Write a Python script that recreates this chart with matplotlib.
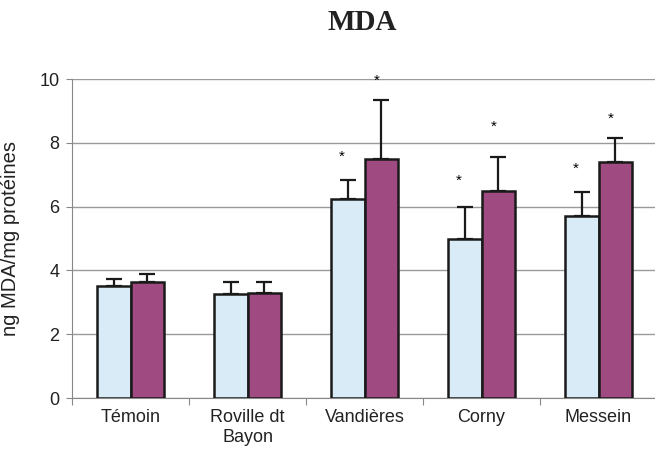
import numpy as np
import matplotlib
matplotlib.use("Agg")
import matplotlib.pyplot as plt

plt.rcParams['font.family'] = ['Liberation Sans', 'DejaVu Sans']

# data
sites = ["Témoin", "Roville dt\nBayon", "Vandières", "Corny", "Messein"]
light_vals = [3.52, 3.27, 6.23, 4.97, 5.69]
light_err = [0.22, 0.36, 0.59, 1.01, 0.77]
dark_vals = [3.64, 3.30, 7.49, 6.48, 7.40]
dark_err = [0.26, 0.33, 1.85, 1.09, 0.76]
# significance stars (height), None = no star
light_stars = [None, None, 7.57, 6.80, 7.19]
dark_stars = [None, None, 9.95, 8.50, 8.74]

light_col = "#d8ebf6"
dark_col = "#a04a82"

fig = plt.figure(figsize=(6.55, 4.61), dpi=100)
ax = fig.add_axes([72/655, 63/461, 585/655, 319/461])

x = np.arange(len(sites))
w = 0.29

ax.bar(x - w/2, light_vals, w, color=light_col, edgecolor="#1a1a1a", linewidth=1.8, zorder=3)
ax.bar(x + w/2, dark_vals, w, color=dark_col, edgecolor="#1a1a1a", linewidth=1.8, zorder=3)
# only upper error bars
ax.errorbar(x - w/2, light_vals, yerr=[np.zeros(len(x)), light_err], fmt="none",
            ecolor="#1a1a1a", elinewidth=1.6, capsize=5.5, capthick=1.6, zorder=2)
ax.errorbar(x + w/2, dark_vals, yerr=[np.zeros(len(x)), dark_err], fmt="none",
            ecolor="#1a1a1a", elinewidth=1.6, capsize=5.5, capthick=1.6, zorder=2)

for i in range(len(sites)):
    if light_stars[i] is not None:
        ax.text(x[i] - w/2 - 0.05, light_stars[i], "*", ha="center", va="center", fontsize=11)
    if dark_stars[i] is not None:
        ax.text(x[i] + w/2 - 0.04, dark_stars[i], "*", ha="center", va="center", fontsize=11)

ax.set_ylim(0, 10)
ax.set_xlim(-0.5, 4.5)
ax.set_yticks([0, 2, 4, 6, 8, 10])
ax.yaxis.grid(True, color="#9a9a9a", linewidth=1.0, zorder=0)
ax.set_axisbelow(True)

# boundary ticks as major, labels as minor
ax.set_xticks(np.arange(-0.5, 5, 1))
ax.set_xticklabels([])
ax.set_xticks(x, minor=True)
ax.set_xticklabels(sites, minor=True, fontsize=13, color="#222222")
ax.tick_params(axis="x", which="major", length=5, color="#888888")
ax.tick_params(axis="x", which="minor", length=0, pad=8)
ax.tick_params(axis="y", length=4, color="#888888", labelsize=13, pad=5, labelcolor="#222222")

for s in ["top", "right"]:
    ax.spines[s].set_visible(False)
ax.spines["left"].set_color("#888888")
ax.spines["bottom"].set_color("#888888")

ax.set_ylabel("ng MDA/mg protéines", fontsize=14.5, color="#222222")
ax.yaxis.set_label_coords(-0.089, 0.5)

fig.text(0.553, 0.952, "MDA", ha="center", va="center", fontsize=21,
         fontweight="bold", family=["Liberation Serif", "DejaVu Serif"], color="#222222")

fig.savefig("out.png", dpi=100)
